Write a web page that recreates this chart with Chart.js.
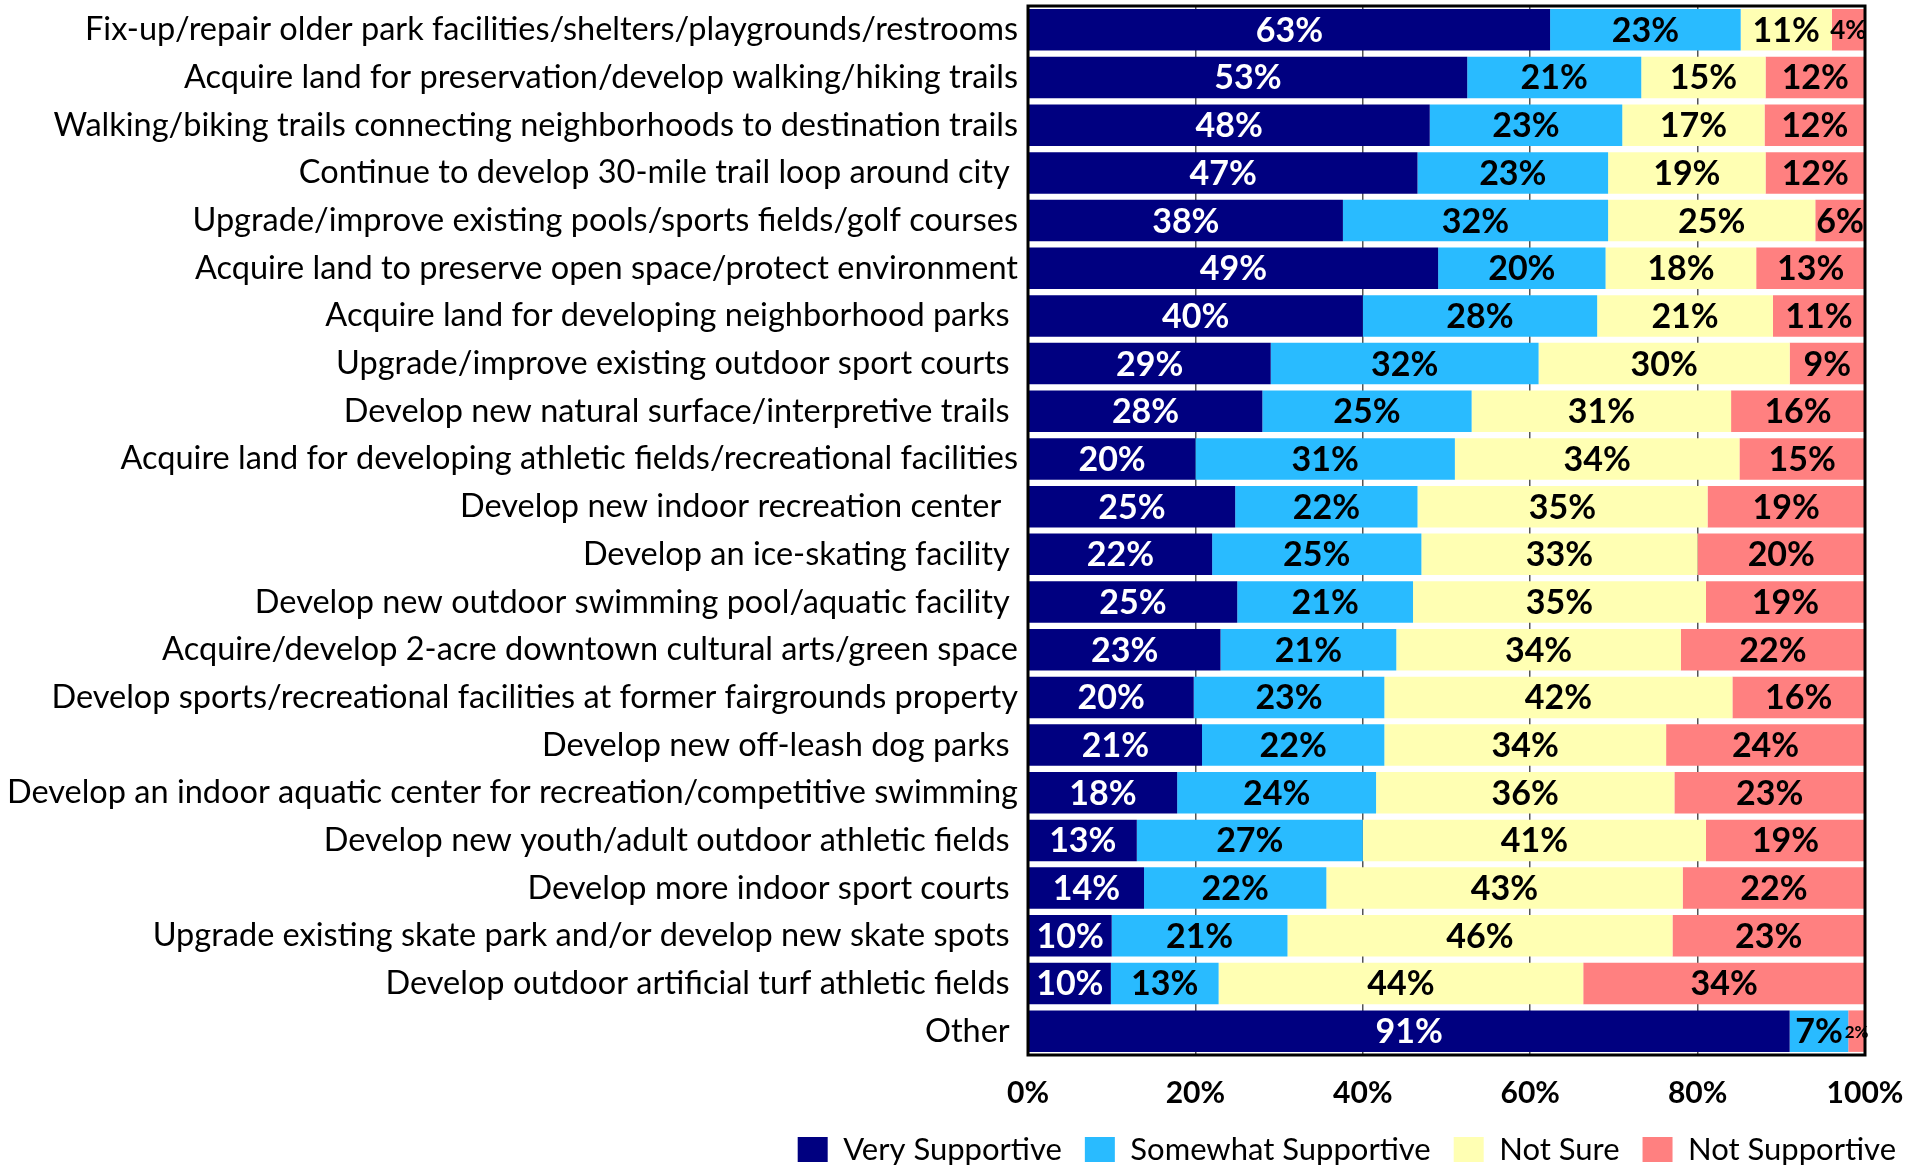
<!DOCTYPE html>
<html>
<head>
<meta charset="utf-8">
<script src="https://cdn.jsdelivr.net/npm/chart.js@4.4.1/dist/chart.umd.min.js"></script>
<style>
  html, body { margin: 0; padding: 0; background: #fff; }
  #wrap { width: 1923px; height: 1168px; }
</style>
</head>
<body>
<div id="wrap"><canvas id="grafico" width="1923" height="1168"></canvas></div>
<script>
var categories = [
  'Fix-up/repair older park facilities/shelters/playgrounds/restrooms',
  'Acquire land for preservation/develop walking/hiking trails',
  'Walking/biking trails connecting neighborhoods to destination trails',
  'Continue to develop 30-mile trail loop around city ',
  'Upgrade/improve existing pools/sports fields/golf courses',
  'Acquire land to preserve open space/protect environment',
  'Acquire land for developing neighborhood parks ',
  'Upgrade/improve existing outdoor sport courts ',
  'Develop new natural surface/interpretive trails ',
  'Acquire land for developing athletic fields/recreational facilities',
  'Develop new indoor recreation center  ',
  'Develop an ice-skating facility ',
  'Develop new outdoor swimming pool/aquatic facility ',
  'Acquire/develop 2-acre downtown cultural arts/green space',
  'Develop sports/recreational facilities at former fairgrounds property',
  'Develop new off-leash dog parks ',
  'Develop an indoor aquatic center for recreation/competitive swimming',
  'Develop new youth/adult outdoor athletic fields ',
  'Develop more indoor sport courts ',
  'Upgrade existing skate park and/or develop new skate spots ',
  'Develop outdoor artificial turf athletic fields ',
  'Other '
];

var seriesNames = ['Very Supportive', 'Somewhat Supportive', 'Not Sure', 'Not Supportive'];

var verySupportive     = [63, 53, 48, 47, 38, 49, 40, 29, 28, 20, 25, 22, 25, 23, 20, 21, 18, 13, 14, 10, 10, 91];
var somewhatSupportive = [23, 21, 23, 23, 32, 20, 28, 32, 25, 31, 22, 25, 21, 21, 23, 22, 24, 27, 22, 21, 13, 7];
var notSure            = [11, 15, 17, 19, 25, 18, 21, 30, 31, 34, 35, 33, 35, 34, 42, 34, 36, 41, 43, 46, 44, 0];
var notSupportive      = [4, 12, 12, 12, 6, 13, 11, 9, 16, 15, 19, 20, 19, 22, 16, 24, 23, 19, 22, 23, 34, 2];

var xTicks = [0, 20, 40, 60, 80, 100];

var colores = ['#000080', '#29BBFF', '#FFFFB3', '#FF8080'];

var allSeries = [verySupportive, somewhatSupportive, notSure, notSupportive];

// 100% stacked: each row is scaled to its total, labels keep the read values
var totals = categories.map(function (c, i) {
  return allSeries.reduce(function (s, arr) { return s + arr[i]; }, 0);
});

var datasets = allSeries.map(function (arr, k) {
  return {
    label: seriesNames[k],
    data: arr.map(function (v, i) { return v / totals[i] * 100; }),
    raw: arr,
    backgroundColor: colores[k],
    borderWidth: 0,
    categoryPercentage: 1,
    barPercentage: 0.87
  };
});

var rotulos = {
  id: 'rotulos',
  afterDatasetsDraw: function (chart) {
    var ctx = chart.ctx;
    ctx.save();
    ctx.textAlign = 'center';
    ctx.textBaseline = 'middle';
    chart.data.datasets.forEach(function (ds, k) {
      var meta = chart.getDatasetMeta(k);
      meta.data.forEach(function (bar, i) {
        var v = ds.raw[i];
        if (!v) return;
        var txt = v + '%';
        var w = Math.abs(bar.x - bar.base);
        var size = 34;
        ctx.font = 'bold ' + size + 'px Lato';
        var tw = ctx.measureText(txt).width;
        var room = w < 25 ? w + 8 : w + 4;
        if (tw > room) {
          size = Math.max(10, Math.floor(size * room / tw));
          ctx.font = 'bold ' + size + 'px Lato';
        }
        ctx.fillStyle = k === 0 ? '#ffffff' : '#000000';
        ctx.fillText(txt, (bar.x + bar.base) / 2, bar.y + 1);
      });
    });
    // plot frame
    var a = chart.chartArea;
    ctx.strokeStyle = '#000';
    ctx.lineWidth = 3;
    ctx.strokeRect(a.left, a.top, a.right - a.left, a.bottom - a.top);
    ctx.restore();
  }
};

var grafico = new Chart(document.getElementById('grafico'), {
  type: 'bar',
  data: {
    labels: categories,
    datasets: datasets
  },
  plugins: [rotulos],
  options: {
    indexAxis: 'y',
    responsive: false,
    animation: false,
    layout: {
      padding: { top: 6, right: 4, left: 0, bottom: -7 }
    },
    plugins: {
      tooltip: { enabled: false },
      legend: {
        position: 'bottom',
        align: 'end',
        labels: {
          color: '#000',
          boxWidth: 30,
          boxHeight: 25,
          padding: 23,
          font: { family: 'Lato', size: 31 }
        }
      }
    },
    scales: {
      x: {
        stacked: true,
        min: 0,
        max: 100,
        afterBuildTicks: function (scale) {
          scale.ticks = xTicks.map(function (v) { return { value: v }; });
        },
        afterFit: function (scale) {
          scale.paddingRight = 58;
          scale.height = 56;
        },
        border: { display: false },
        grid: { color: '#555', lineWidth: 1.5, drawTicks: false },
        ticks: {
          padding: 20,
          color: '#000',
          font: { family: 'Lato', size: 30, weight: 'bold' },
          callback: function (v) { return v + '%'; }
        }
      },
      y: {
        stacked: true,
        afterFit: function (scale) {
          scale.width = 1028;
          scale.paddingTop = 0;
          scale.paddingBottom = 0;
        },
        border: { display: false },
        grid: { display: false, drawTicks: false },
        ticks: {
          autoSkip: false,
          padding: 10,
          color: '#000',
          font: { family: 'Lato', size: 32.5 }
        }
      }
    }
  }
});
</script>
</body>
</html>
